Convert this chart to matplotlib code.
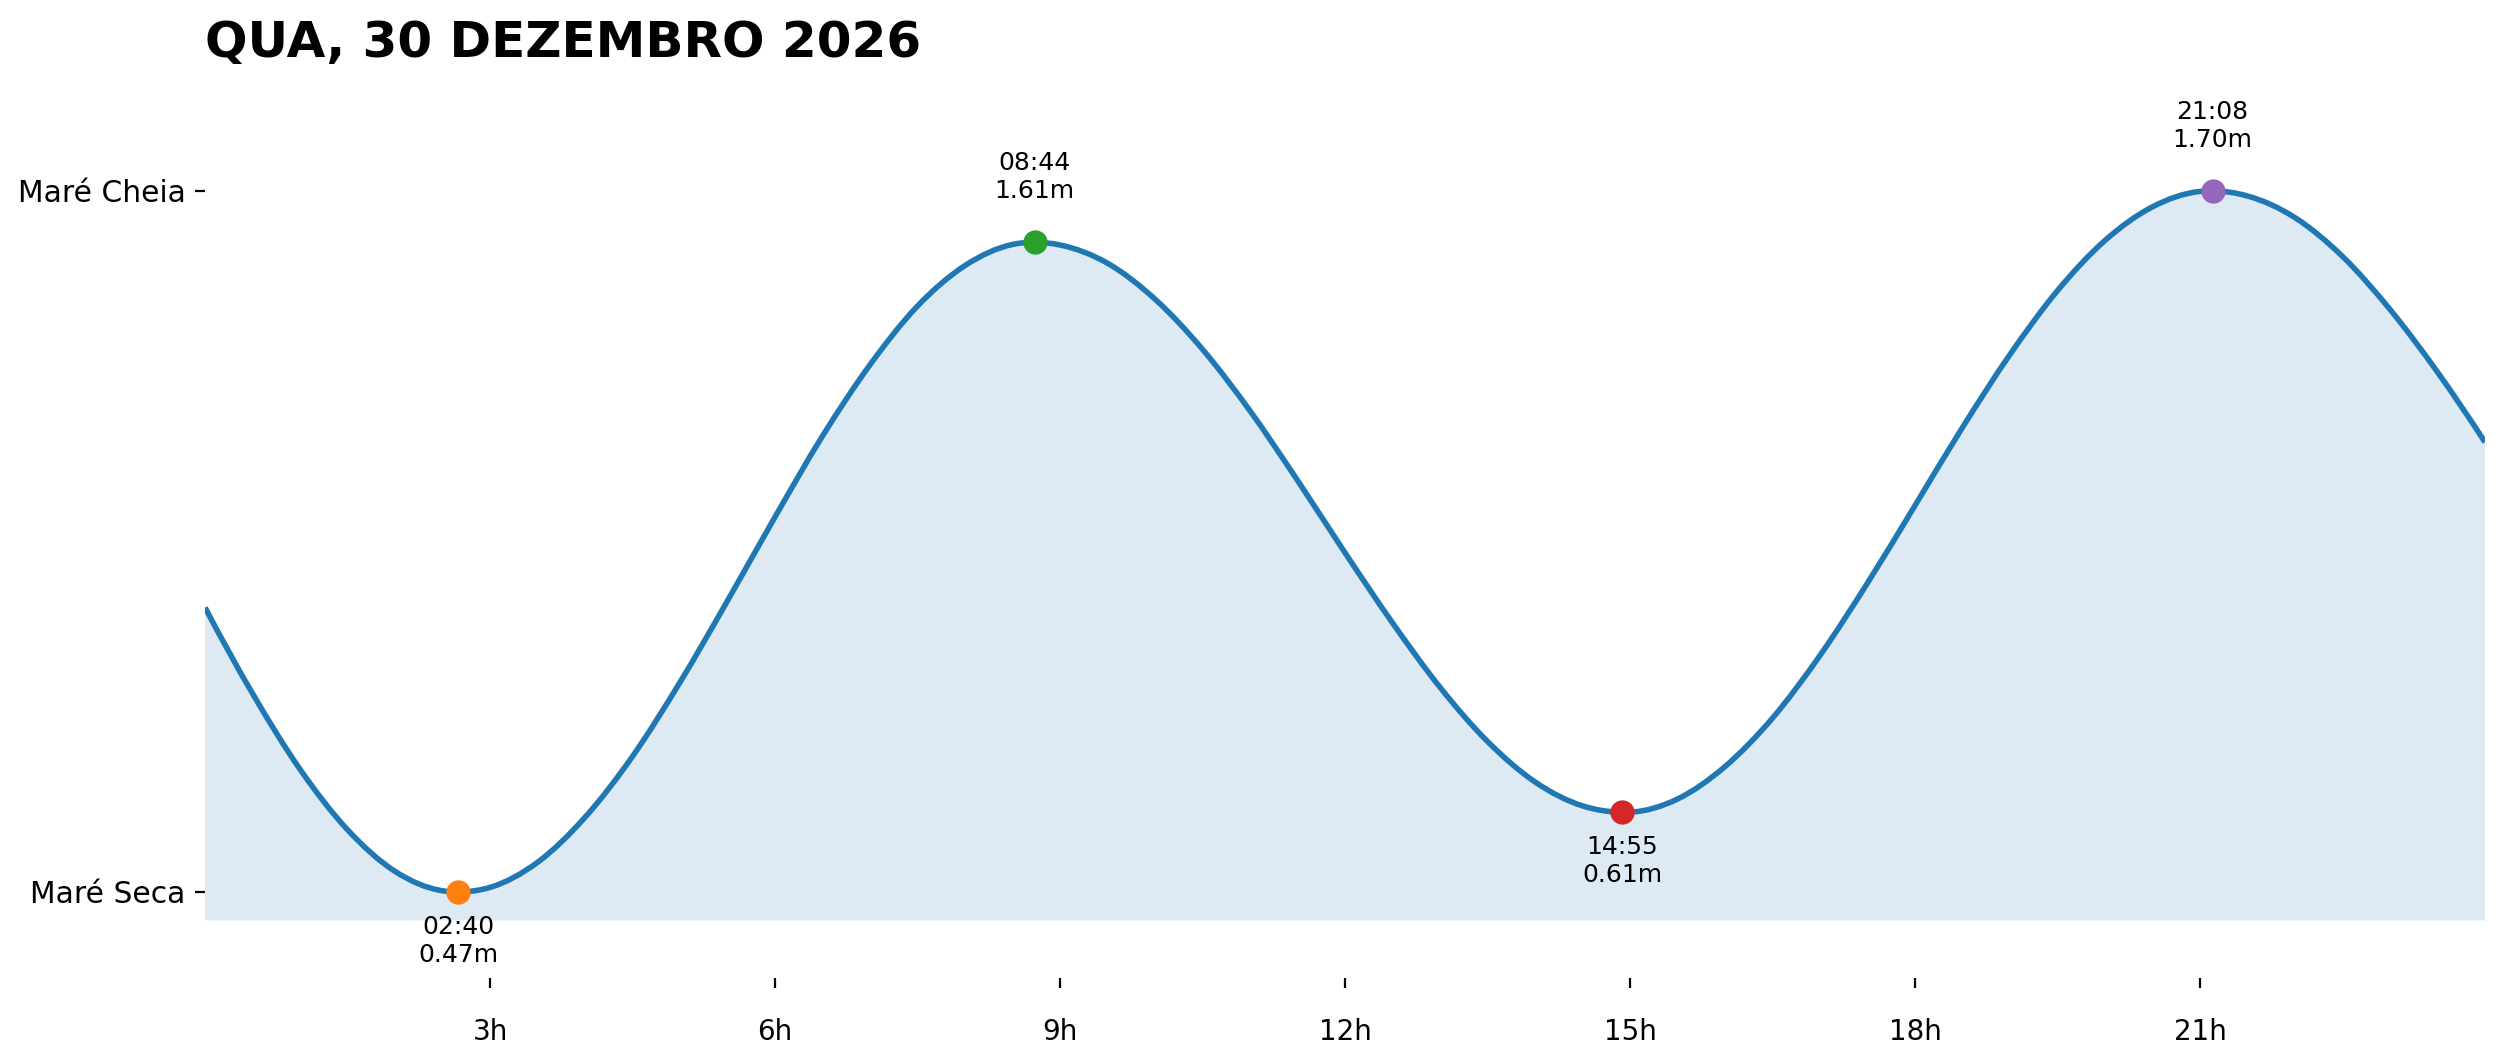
import numpy as np
import matplotlib
matplotlib.use('Agg')
from matplotlib import pyplot as plt
from matplotlib.path import Path
from matplotlib.patches import PathPatch

title = 'QUA, 30 DEZEMBRO 2026'

# tide events of the day (hour of day, label, height in m)
event_hours = [2.667, 8.733, 14.917, 21.133]
event_labels = ['02:40', '08:44', '14:55', '21:08']
event_heights = [0.47, 1.61, 0.61, 1.70]
event_is_high = [False, True, False, True]
event_colors = ['tab:orange', 'tab:green', 'tab:red', 'tab:purple']

# tide curve (hour, height in m)
curve_hours = [0.0, 0.5, 1.0, 1.5, 2.0, 2.5, 2.667, 3.0, 3.5, 4.0, 4.5, 5.0,
               5.5, 6.0, 6.5, 7.0, 7.5, 8.0, 8.5, 8.733, 9.0, 9.5, 10.0, 10.5,
               11.0, 11.5, 12.0, 12.5, 13.0, 13.5, 14.0, 14.5, 14.917, 15.0,
               15.5, 16.0, 16.5, 17.0, 17.5, 18.0, 18.5, 19.0, 19.5, 20.0,
               20.5, 21.0, 21.133, 21.5, 22.0, 22.5, 23.0, 23.5, 24.0]
curve_heights = [0.969, 0.818, 0.685, 0.579, 0.506, 0.472, 0.470, 0.478, 0.522,
                 0.601, 0.708, 0.838, 0.981, 1.128, 1.270, 1.395, 1.498, 1.569,
                 1.606, 1.610, 1.605, 1.573, 1.510, 1.422, 1.314, 1.192, 1.065,
                 0.942, 0.829, 0.734, 0.663, 0.621, 0.610, 0.610, 0.633, 0.690,
                 0.775, 0.885, 1.012, 1.148, 1.285, 1.413, 1.525, 1.613, 1.672,
                 1.699, 1.700, 1.691, 1.653, 1.585, 1.492, 1.382, 1.259]

hour_ticks = [3, 6, 9, 12, 15, 18, 21]
hour_labels = ['3h', '6h', '9h', '12h', '15h', '18h', '21h']

low = min(event_heights)
high = max(event_heights)


def slope_3pt(xa, ya, xb, yb, xc, yc, at):
    # derivative of the parabola through three points, evaluated at x=at
    d1 = (yb - ya) / (xb - xa)
    d2 = (yc - yb) / (xc - xb)
    a = (d2 - d1) / (xc - xa)
    return d1 + a * (2 * at - xa - xb)


def smooth_path_verts(xs, ys):
    # cubic bezier segments through the points (hermite tangents)
    n = len(xs)
    slopes = []
    for i in range(n):
        if xs[i] in event_hours:
            slopes.append(0.0)
            continue
        j = min(max(i - 1, 0), n - 3)
        slopes.append(slope_3pt(xs[j], ys[j], xs[j + 1], ys[j + 1],
                                xs[j + 2], ys[j + 2], xs[i]))
    verts = [(xs[0], ys[0])]
    codes = [Path.MOVETO]
    for i in range(n - 1):
        dx = (xs[i + 1] - xs[i]) / 3.0
        verts.append((xs[i] + dx, ys[i] + slopes[i] * dx))
        verts.append((xs[i + 1] - dx, ys[i + 1] - slopes[i + 1] * dx))
        verts.append((xs[i + 1], ys[i + 1]))
        codes += [Path.CURVE4] * 3
    return verts, codes


fig = plt.figure(figsize=(12.505, 5.31), dpi=200)
ax = fig.add_axes([0.082, 0.0791, 0.9116, 0.8512])

verts, codes = smooth_path_verts(curve_hours, curve_heights)
base = low - 0.05
fill_verts = verts + [(curve_hours[-1], base), (curve_hours[0], base), verts[0]]
fill_codes = codes + [Path.LINETO, Path.LINETO, Path.CLOSEPOLY]
ax.add_patch(PathPatch(Path(fill_verts, fill_codes), facecolor='tab:blue',
                       alpha=0.15, linewidth=0))
ax.add_patch(PathPatch(Path(verts, codes), facecolor='none',
                       edgecolor='tab:blue', linewidth=2))

for h, lab, v, is_high, c in zip(event_hours, event_labels, event_heights,
                                 event_is_high, event_colors):
    ax.scatter([h], [v], s=60, color=c, zorder=5)
    if is_high:
        ax.annotate('%s\n%.2fm' % (lab, v), (h, v), xytext=(0, 14),
                    textcoords='offset points', ha='center', va='bottom',
                    fontsize=9)
    else:
        ax.annotate('%s\n%.2fm' % (lab, v), (h, v), xytext=(0, -8.3),
                    textcoords='offset points', ha='center', va='top',
                    fontsize=9)

ax.set_xlim(0, 24)
ax.set_ylim(low - 0.151, high + 0.205)
ax.set_xticks(hour_ticks)
ax.set_xticklabels(hour_labels)
ax.set_yticks([low, high])
ax.set_yticklabels(['Maré Seca', 'Maré Cheia'])
ax.tick_params(axis='x', labelsize=10, pad=11)
ax.tick_params(axis='y', labelsize=10.7)
for s in ax.spines.values():
    s.set_visible(False)

ax.set_title(title, loc='left', fontsize=18, fontweight='bold')

plt.savefig('out.png', dpi=200)
